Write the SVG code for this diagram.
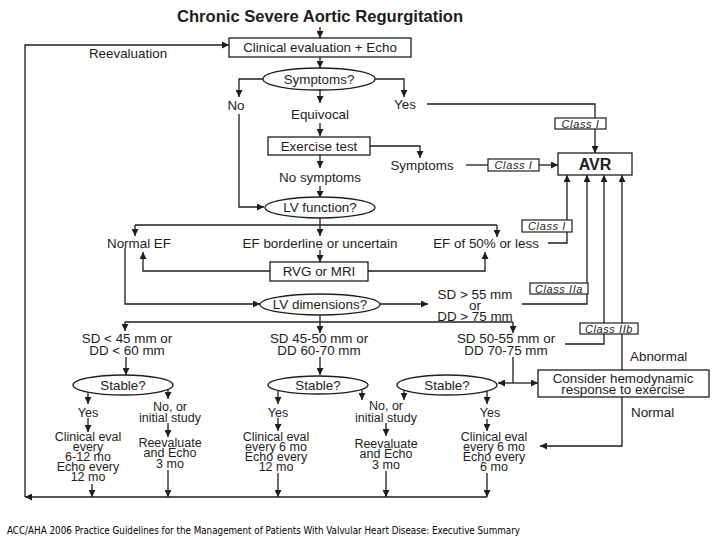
<svg xmlns="http://www.w3.org/2000/svg" width="720" height="540" viewBox="0 0 720 540">
<defs>
<marker id="a" viewBox="0 0 10 10" refX="10" refY="5" markerWidth="7" markerHeight="7" orient="auto" markerUnits="userSpaceOnUse"><path d="M0,0 L10,5 L0,10 z" fill="#1e1e1e"/></marker>
<style>
.t{font-family:"Liberation Sans",Arial,sans-serif;font-size:13.4px;fill:#1e1e1e;text-anchor:middle}
.s{font-family:"Liberation Sans",Arial,sans-serif;font-size:12.5px;fill:#1e1e1e;text-anchor:middle}
.c{font-family:"Liberation Sans",Arial,sans-serif;font-size:11px;font-style:italic;letter-spacing:0.6px;fill:#1e1e1e;text-anchor:middle}
.b{fill:#fff;stroke:#1e1e1e;stroke-width:1.3}
.cb{fill:#fff;stroke:#1e1e1e;stroke-width:1.2}
#conn path{fill:none;stroke:#1e1e1e;stroke-width:1.3}
.m{marker-end:url(#a)}
</style>
</defs>
<rect width="720" height="540" fill="#fff"/>
<g id="conn">
<path class="m" d="M320,27 V38"/>
<path class="m" d="M320,57 V68"/>
<path class="m" d="M263,79 H239 V97"/>
<path class="m" d="M375,79 H404 V97"/>
<path class="m" d="M320,90 V103"/>
<path class="m" d="M320,123 V136"/>
<path class="m" d="M370,146 H420 V158"/>
<path class="m" d="M320,155 V168"/>
<path class="m" d="M320,186 V198"/>
<path class="m" d="M239,114 V207 H264"/>
<path class="m" d="M427,104 H595 V153"/>
<path d="M466,165 H488"/>
<path class="m" d="M539,165 H558"/>
<path class="m" d="M320,218 V236"/>
<path d="M135,225 H497"/>
<path class="m" d="M135,225 V236"/>
<path class="m" d="M497,225 V237"/>
<path class="m" d="M320,250 V262"/>
<path class="m" d="M270,271 H143 V252"/>
<path class="m" d="M368,271 H485 V252"/>
<path class="m" d="M548,243 H567 V175"/>
<path class="m" d="M125,248 V304 H260"/>
<path class="m" d="M379,304 H428"/>
<path class="m" d="M522,304 H587 V175"/>
<path class="m" d="M320,315 V333"/>
<path d="M125,322 H513"/>
<path class="m" d="M125,322 V331"/>
<path class="m" d="M513,322 V333"/>
<path class="m" d="M565,344 H604 V175"/>
<path class="m" d="M622,370 V175"/>
<path class="m" d="M622,397 V446 H540"/>
<path class="m" d="M126,357 V375"/>
<path class="m" d="M320,357 V375"/>
<path d="M513,357 V383"/>
<path class="m" d="M513,383 H498"/>
<path class="m" d="M513,383 H538"/>
<path class="m" d="M88,392 V404"/>
<path class="m" d="M168,389 V399"/>
<path class="m" d="M278,391 V404"/>
<path class="m" d="M362,390 V400"/>
<path class="m" d="M404,390 V400"/>
<path class="m" d="M487,391 V404"/>
<path class="m" d="M88,418 V432"/>
<path class="m" d="M168,423 V437"/>
<path class="m" d="M278,418 V431"/>
<path class="m" d="M386,423 V436"/>
<path class="m" d="M487,419 V431"/>
<path class="m" d="M92,484 V497"/>
<path class="m" d="M168,470 V497"/>
<path class="m" d="M278,473 V497"/>
<path class="m" d="M386,471 V497"/>
<path class="m" d="M487,473 V497"/>
<path class="m" d="M487,497 H25"/>
<path class="m" d="M25,497 V45 H229"/>
</g>
<g id="title"><text x="320" y="22" class="t" style="font-size:16.6px;font-weight:bold">Chronic Severe Aortic Regurgitation</text></g>
<g id="clinical"><rect class="b" x="229" y="38" width="182" height="19"/><text x="320" y="52" class="t">Clinical evaluation + Echo</text></g>
<g id="reevaluation"><text x="128" y="57.5" class="t">Reevaluation</text></g>
<g id="symptomsQ"><ellipse class="b" cx="319" cy="79" rx="56" ry="11"/><text x="319" y="83.5" class="t">Symptoms?</text></g>
<g id="no"><text x="236" y="109.5" class="t">No</text></g>
<g id="yes"><text x="405" y="108.5" class="t">Yes</text></g>
<g id="equivocal"><text x="320" y="118.5" class="t">Equivocal</text></g>
<g id="exercise"><rect class="b" x="268" y="137" width="102" height="18"/><text x="319" y="150.5" class="t">Exercise test</text></g>
<g id="symptoms"><text x="422" y="169.5" class="t">Symptoms</text></g>
<g id="nosymptoms"><text x="320" y="181.5" class="t">No symptoms</text></g>
<g id="avr"><rect class="b" x="558" y="153" width="74" height="22"/><text x="595" y="170" class="t" style="font-size:16px;font-weight:bold">AVR</text></g>
<g id="lvfunction"><ellipse class="b" cx="320" cy="207.5" rx="55" ry="10.5"/><text x="320" y="212" class="t">LV function?</text></g>
<g id="normalef"><text x="139" y="247.5" class="t">Normal EF</text></g>
<g id="efborder"><text x="320" y="247.5" class="t">EF borderline or uncertain</text></g>
<g id="ef50"><text x="486" y="247.5" class="t">EF of 50% or less</text></g>
<g id="rvg"><rect class="b" x="270" y="262" width="98" height="19"/><text x="319" y="276" class="t">RVG or MRI</text></g>
<g id="lvdim"><ellipse class="b" cx="320" cy="304.5" rx="60" ry="10.5"/><text x="320" y="309" class="t">LV dimensions?</text></g>
<g id="sd55"><text class="t"><tspan x="475" y="298.5">SD &gt; 55 mm</tspan><tspan x="475" dy="11">or</tspan><tspan x="475" dy="11">DD &gt; 75 mm</tspan></text></g>
<g id="sd45"><text class="t"><tspan x="127" y="342.5">SD &lt; 45 mm or</tspan><tspan x="127" dy="12">DD &lt; 60 mm</tspan></text></g>
<g id="sd4550"><text class="t"><tspan x="319" y="342.5">SD 45-50 mm or</tspan><tspan x="319" dy="12">DD 60-70 mm</tspan></text></g>
<g id="sd5055"><text class="t"><tspan x="506" y="342.5">SD 50-55 mm or</tspan><tspan x="506" dy="12">DD 70-75 mm</tspan></text></g>
<g id="abnormal"><text x="630" y="360.5" class="t" style="text-anchor:start">Abnormal</text></g>
<g id="normal"><text x="631" y="416.5" class="t" style="text-anchor:start">Normal</text></g>
<g id="consider"><rect class="b" x="538" y="370" width="171" height="27"/><text class="t"><tspan x="623" y="382.5">Consider hemodynamic</tspan><tspan x="623" dy="11.5">response to exercise</tspan></text></g>
<g id="class1a"><rect class="cb" x="555" y="118" width="51" height="11"/><text x="580.5" y="127.5" class="c">Class I</text></g>
<g id="class1b"><rect class="cb" x="488" y="159" width="51" height="12"/><text x="513.5" y="169" class="c">Class I</text></g>
<g id="class1c"><rect class="cb" x="522" y="220" width="50" height="12"/><text x="547" y="230" class="c">Class I</text></g>
<g id="class2a"><rect class="cb" x="530" y="283" width="58" height="11"/><text x="559" y="292.5" class="c">Class IIa</text></g>
<g id="class2b"><rect class="cb" x="580" y="323" width="58" height="11"/><text x="609" y="332.5" class="c">Class IIb</text></g>
<g id="stable1"><ellipse class="b" cx="123" cy="385" rx="50" ry="10"/><text x="123" y="389.5" class="t">Stable?</text></g>
<g id="stable2"><ellipse class="b" cx="318" cy="385" rx="50" ry="9"/><text x="318" y="389.5" class="t">Stable?</text></g>
<g id="stable3"><ellipse class="b" cx="447" cy="385" rx="50" ry="10"/><text x="447" y="389.5" class="t">Stable?</text></g>
<g id="col1"><text x="88" y="416.5" class="s">Yes</text><text class="s"><tspan x="88" y="441.3">Clinical eval</tspan><tspan x="88" dy="10">every</tspan><tspan x="88" dy="10">6-12 mo</tspan><tspan x="88" dy="10">Echo every</tspan><tspan x="88" dy="10">12 mo</tspan></text></g>
<g id="col2"><text class="s"><tspan x="170" y="411.3">No, or</tspan><tspan x="170" dy="11">initial study</tspan></text><text class="s"><tspan x="170" y="447.3">Reevaluate</tspan><tspan x="170" dy="10">and Echo</tspan><tspan x="170" dy="11">3 mo</tspan></text></g>
<g id="col3"><text x="278" y="416.5" class="s">Yes</text><text class="s"><tspan x="276" y="441.3">Clinical eval</tspan><tspan x="276" dy="10">every 6 mo</tspan><tspan x="276" dy="10">Echo every</tspan><tspan x="276" dy="10">12 mo</tspan></text></g>
<g id="col4"><text class="s"><tspan x="386" y="410.3">No, or</tspan><tspan x="386" dy="12">initial study</tspan></text><text class="s"><tspan x="386" y="448.3">Reevaluate</tspan><tspan x="386" dy="10">and Echo</tspan><tspan x="386" dy="11">3 mo</tspan></text></g>
<g id="col5"><text x="490" y="417.3" class="s">Yes</text><text class="s"><tspan x="494" y="441.3">Clinical eval</tspan><tspan x="494" dy="10">every 6 mo</tspan><tspan x="494" dy="10">Echo every</tspan><tspan x="494" dy="10">6 mo</tspan></text></g>
<g id="footer"><text x="7" y="533.5" style="font-family:'DejaVu Sans','Liberation Sans',sans-serif;font-size:10px;fill:#000" textLength="513" lengthAdjust="spacingAndGlyphs">ACC/AHA 2006 Practice Guidelines for the Management of Patients With Valvular Heart Disease: Executive Summary</text></g>
</svg>
